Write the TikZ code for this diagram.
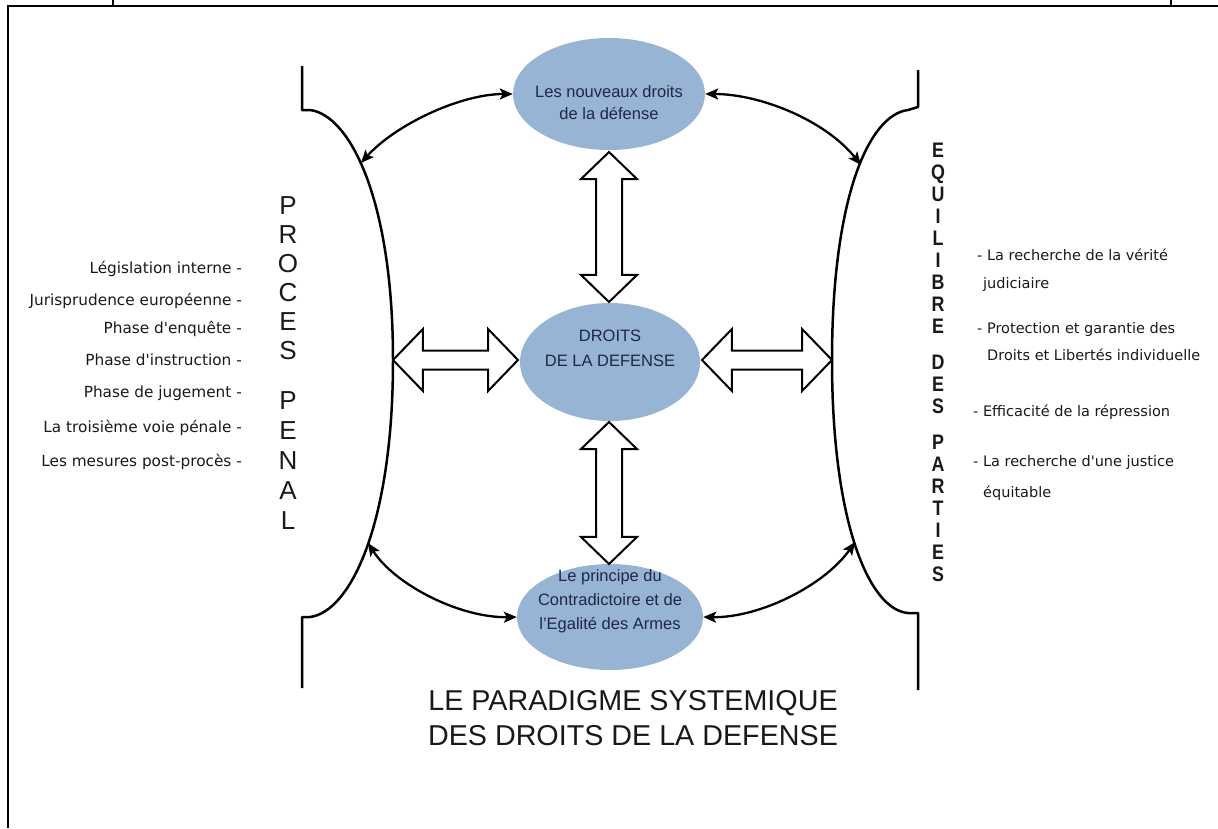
\documentclass[tikz,border=0pt]{standalone}
\usepackage{fontspec}
\setmainfont{Liberation Sans}
\newfontfamily\dvs{DejaVu Sans}
\usetikzlibrary{shapes.arrows,shapes.geometric,arrows.meta}
\definecolor{ell}{RGB}{152,180,212}
\definecolor{navy}{RGB}{30,40,70}
\definecolor{ink}{RGB}{25,25,25}
\begin{document}
\begin{tikzpicture}[x=1pt,y=-1pt,
  bubble/.style={ellipse, fill=ell, draw=none, inner sep=0},
  btext/.style={font=\fontsize{16.5}{24}\selectfont, text=navy, align=center, inner sep=0},
  blockarrow/.style={double arrow, draw=black, line width=2pt, fill=white, inner xsep=0pt,
     double arrow tip angle=92},
  bracket/.style={line width=2.5pt, line join=round},
  link/.style={line width=2.3pt, {Stealth[length=13pt,width=11pt,inset=3pt]}-{Stealth[length=13pt,width=11pt,inset=3pt]}},
  ltxt/.style={font=\dvs\fontsize{15.3}{18}\selectfont, text=ink, inner sep=0, text height=11pt, text depth=0pt, anchor=east},
  rtxt/.style={font=\dvs\fontsize{14.5}{18}\selectfont, text=ink, inner sep=0, text height=11pt, text depth=0pt, anchor=west},
  vl/.style={font=\fontsize{26}{26}\selectfont, text=ink, inner sep=0, text height=18.6pt, text depth=0pt},
  vr/.style={font=\bfseries\fontsize{21}{21}\selectfont, text=ink, xscale=0.85, inner sep=0, text height=15pt, text depth=0pt},
  title/.style={font=\fontsize{28.7}{35}\selectfont, text=ink, align=center, inner sep=0}
]
\useasboundingbox (0,0) rectangle (1218,828);
% frame
\draw[line width=1.5pt] (8,828) -- (8,6) -- (1218,6);
\draw[line width=1.2pt] (113,0) -- (113,6);
\draw[line width=1.2pt] (1171,0) -- (1171,6);

% ellipses
\node[bubble, minimum width=192pt, minimum height=112pt] (top) at (609,94) {};
\node[bubble, minimum width=180pt, minimum height=118pt] (mid) at (610,362) {};
\node[bubble, minimum width=186pt, minimum height=106pt] (bot) at (610,617) {};
\node[btext, font=\fontsize{16.5}{22}\selectfont] (topt) at (609,103) {Les nouveaux droits\\de la défense};
\node[btext, font=\fontsize{16.5}{25}\selectfont] (midt) at (610,348) {DROITS\\DE LA DEFENSE};
\node[btext] (bott) at (610,601) {Le principe du\\Contradictoire et de\\l'Egalité des Armes};

% brackets
\draw[bracket] (302,66) -- (302,110) -- (310,110)
   .. controls (350,115) and (393,200) .. (393,360)
   .. controls (393,525) and (350,612) .. (310,617) -- (302,617) -- (302,688);
\draw[bracket] (918,70) -- (918,107) -- (908,110)
   .. controls (868,115) and (832,200) .. (832,360)
   .. controls (832,525) and (870,610) .. (908,613) -- (918,613) -- (918,690);
\coordinate (ul) at (361,163);
\coordinate (ur) at (861,165);
\coordinate (ll) at (368,543);
\coordinate (lr) at (855,542);

% curved links
\draw[link] (ul) .. controls (395,125) and (460,94) .. (top.west);
\draw[link] (top.east) .. controls (760,94) and (825,120) .. (ur);
\draw[link] (ll) .. controls (395,585) and (460,618) .. (bot.west);
\draw[link] (bot.east) .. controls (760,618) and (825,585) .. (lr);

% block arrows
\node[blockarrow, inner ysep=12pt, double arrow head extend=15pt, minimum height=150pt, rotate=90] (va) at (609,227) {};
\node[blockarrow, inner ysep=12pt, double arrow head extend=15pt, minimum height=142pt, rotate=90] (vb) at (609,493) {};
\node[blockarrow, inner ysep=8.5pt, double arrow head extend=21.5pt, minimum height=125pt] (ha) at (455.5,360) {};
\node[blockarrow, inner ysep=8.5pt, double arrow head extend=21.5pt, minimum height=130pt] (hb) at (767,360) {};

% left list
\node[ltxt] (l1) at (242,268) {Législation interne -};
\node[ltxt] (l2) at (242,300) {Jurisprudence européenne -};
\node[ltxt] (l3) at (242,328) {Phase d'enquête -};
\node[ltxt] (l4) at (242,360) {Phase d'instruction -};
\node[ltxt] (l5) at (242,392) {Phase de jugement -};
\node[ltxt] (l6) at (242,427) {La troisième voie pénale -};
\node[ltxt] (l7) at (242,461) {Les mesures post-procès -};

% right list
\node[rtxt] (r1) at (977,255) {- La recherche de la vérité};
\node[rtxt] (r1b) at (983,283) {judiciaire};
\node[rtxt] (r2) at (977,328) {- Protection et garantie des};
\node[rtxt] (r2b) at (987,355) {Droits et Libertés individuelle};
\node[rtxt] (r3) at (973,411) {- Efficacité de la répression};
\node[rtxt] (r4) at (973,461) {- La recherche d'une justice};
\node[rtxt] (r4b) at (983,492) {équitable};

% vertical words
\foreach \c/\yy [count=\i] in {P/205,R/234,O/263,C/292,E/321,S/350,P/400,E/430,N/460,A/490,L/520}
  \node[vl] (pp\i) at (288,\yy) {\c};
\foreach \c/\yy [count=\i] in {E/150,Q/172,U/194,I/216,L/238,I/260,B/282,R/304,E/326,
    D/362,E/384,S/406,P/442,A/464,R/486,T/508,I/530,E/552,S/574}
  \node[vr] (ep\i) at (938,\yy) {\c};

% title
\node[title] (ttl) at (633,718) {LE PARADIGME SYSTEMIQUE\\DES DROITS DE LA DEFENSE};
\end{tikzpicture}
\end{document}
